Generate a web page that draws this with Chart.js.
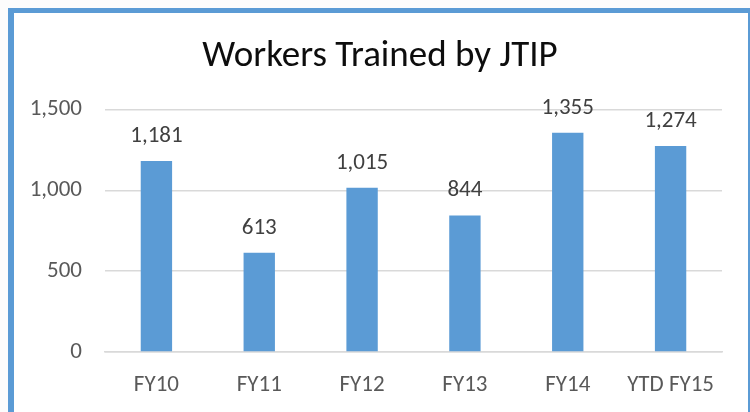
<!DOCTYPE html>
<html>
<head>
<meta charset="utf-8">
<script src="https://cdn.jsdelivr.net/npm/chart.js@4/dist/chart.umd.min.js"></script>
<style>
  html, body { margin: 0; padding: 0; background: #ffffff; overflow: hidden; }
  #wrap { position: relative; width: 750px; height: 412px; overflow: hidden; background: #fcfcfc; }
  #frame { position: absolute; left: 8px; top: 8px; width: 734px; height: 500px;
           border-left: 6px solid #5B9BD5; border-top: 5px solid #5B9BD5; border-right: 2px solid #5B9BD5;
           background: #ffffff; }
  canvas { position: absolute; left: 0; top: 0; }
</style>
</head>
<body>
<div id="wrap">
  <div id="frame"></div>
  <canvas id="c" width="750" height="412"></canvas>
</div>
<script>
const chartTitle = "Workers Trained by JTIP";
const categories = ["FY10", "FY11", "FY12", "FY13", "FY14", "YTD FY15"];
const workersTrained = [1181, 613, 1015, 844, 1355, 1274];
const yTicks = [0, 500, 1000, 1500];

const FONT = "'Carlito', 'Liberation Sans', Arial, sans-serif";

const dataLabels = {
  id: 'dataLabels',
  afterDatasetsDraw(chart) {
    const ctx = chart.ctx;
    const meta = chart.getDatasetMeta(0);
    ctx.save();
    ctx.font = "23px " + FONT;
    ctx.fillStyle = "#404040";
    ctx.textAlign = "center";
    ctx.textBaseline = "middle";
    meta.data.forEach((bar, i) => {
      const v = chart.data.datasets[0].data[i];
      ctx.fillText(v.toLocaleString('en-US'), bar.x, bar.y - 25);
    });
    ctx.restore();
  }
};

// centre the title over the framed chart rather than the whole canvas
const titleShift = {
  id: 'titleShift',
  afterLayout(chart) {
    if (chart.titleBlock) { chart.titleBlock.left = 38; }
  }
};

new Chart(document.getElementById('c'), {
  type: 'bar',
  data: {
    labels: categories,
    datasets: [{
      data: workersTrained,
      backgroundColor: '#5B9BD5',
      borderWidth: 0,
      categoryPercentage: 1,
      barPercentage: 0.305
    }]
  },
  options: {
    responsive: false,
    animation: false,
    events: [],
    layout: { padding: { top: 14, right: 28, bottom: 13, left: 0 } },
    plugins: {
      legend: { display: false },
      tooltip: { enabled: false },
      title: {
        display: true,
        text: chartTitle,
        color: '#0d0d0d',
        font: { family: FONT, size: 37, weight: 'normal' },
        padding: { top: 21, bottom: 30 }
      }
    },
    scales: {
      x: {
        afterFit(scale) { scale.height = 47; },
        grid: { display: false, drawTicks: false },
        border: { display: true, color: '#d9d9d9', width: 1.5 },
        ticks: { color: '#595959', font: { family: FONT, size: 23 }, padding: 19, maxRotation: 0 }
      },
      y: {
        min: 0,
        max: 1500,
        afterFit(scale) { scale.width = 105; },
        afterBuildTicks(scale) { scale.ticks = yTicks.map(v => ({ value: v })); },
        grid: { color: '#d9d9d9', lineWidth: 1.5, drawTicks: false },
        border: { display: false },
        ticks: {
          color: '#595959',
          font: { family: FONT, size: 23 },
          padding: 23,
          callback: (v) => Number(v).toLocaleString('en-US')
        }
      }
    }
  },
  plugins: [dataLabels, titleShift]
});
</script>
</body>
</html>
